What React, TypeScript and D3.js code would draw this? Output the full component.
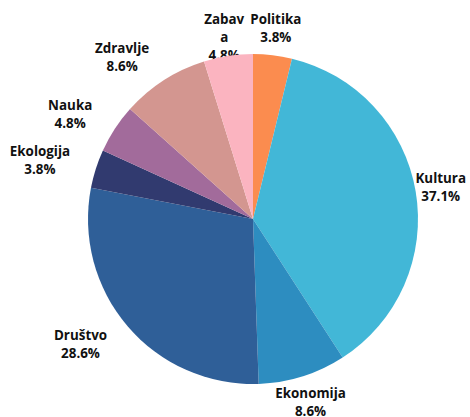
import React, { useEffect, useRef } from "react";
import * as d3 from "d3";

const categories = ["Politika", "Kultura", "Ekonomija", "Društvo", "Ekologija", "Nauka", "Zdravlje", "Zabava"];
const values = [3.8, 37.1, 8.6, 28.6, 3.8, 4.8, 8.6, 4.8];
const colors = ["#FB8C4F", "#42B7D7", "#2D8DC0", "#2F5F98", "#313A6F", "#A26B9B", "#D39690", "#FBB4C0"];
const wrappedNames: Record<string, string[]> = { Zabava: ["Zabav", "a"] };

const W = 470;
const H = 417;

export default function App() {
  const ref = useRef<SVGSVGElement | null>(null);

  useEffect(() => {
    const svg = d3.select(ref.current);
    svg.selectAll("*").remove();
    const cx = 253;
    const cy = 219;
    const r = 165;
    const labelR = 192;
    const lh = 18;

    const data = categories.map((c, i) => ({ name: c, value: values[i], color: colors[i] }));
    const pie = d3.pie<any>().value((d: any) => d.value).sort(null);
    const arcs = pie(data);
    const arc = d3.arc<any>().innerRadius(0).outerRadius(r);

    const labelLayer = svg.append("g");
    arcs.forEach((a: any) => {
      const ang = (a.startAngle + a.endAngle) / 2;
      const s = Math.sin(ang);
      const px = cx + labelR * s;
      const py = cy - labelR * Math.cos(ang);
      const lines = [...(wrappedNames[a.data.name] || [a.data.name]), a.data.value.toFixed(1) + "%"];
      const side = s < -0.35 ? -1 : s > 0.35 ? 1 : 0;
      const t = labelLayer
        .append("text")
        .attr("text-anchor", "middle")
        .attr("font-family", "'Open Sans', sans-serif")
        .attr("font-weight", 700)
        .attr("font-size", 13.4)
        .attr("fill", "#111");
      const first = py - ((lines.length - 1) * lh) / 2 + 4.7;
      lines.forEach((l, i) => {
        t.append("tspan").attr("x", px).attr("y", first + i * lh).text(l);
      });
      const node = t.node() as SVGTextElement;
      const bb0 = node.getBBox();
      let dx = (side * bb0.width) / 2;
      let dy = 0;
      const left = bb0.x + dx;
      const right = left + bb0.width;
      if (right > W - 4) dx += W - 4 - right;
      if (left < 4) dx += 4 - left;
      if (bb0.y < 10) dy = 10 - bb0.y;
      t.attr("transform", `translate(${dx},${dy})`);
    });

    svg
      .append("g")
      .attr("transform", `translate(${cx},${cy})`)
      .selectAll("path")
      .data(arcs)
      .join("path")
      .attr("d", arc as any)
      .attr("fill", (d: any) => d.data.color);
  }, []);

  return (
    <svg
      ref={ref}
      width={W}
      height={H}
      style={{ position: "absolute", left: 0, top: 0, background: "#fff" }}
    />
  );
}
